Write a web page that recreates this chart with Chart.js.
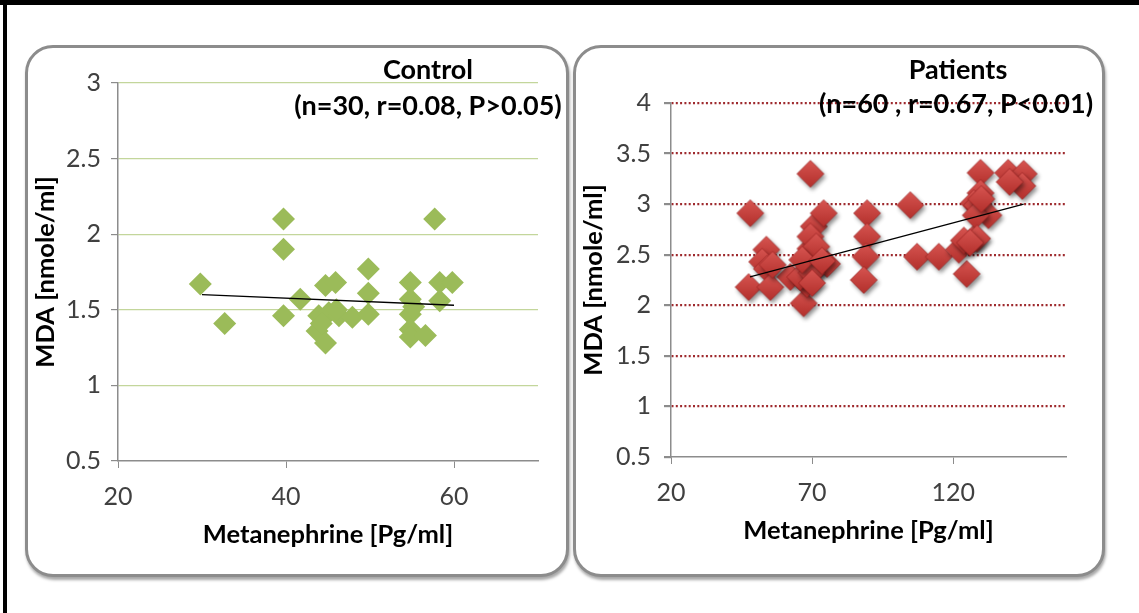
<!DOCTYPE html>
<html>
<head>
<meta charset="utf-8">
<script src="https://cdn.jsdelivr.net/npm/chart.js@4"></script>
<style>
  body { margin: 0; background: #fff; width: 1139px; height: 613px; overflow: hidden; position: relative; font-family: Lato, sans-serif; }
  .bar { position: absolute; background: #000; }
  .panel { position: absolute; box-sizing: border-box; border: 3px solid #8c8c8c; border-radius: 28px; box-shadow: 1px 3px 3px rgba(0,0,0,0.35); background: #fff; }
  canvas { position: absolute; }
</style>
</head>
<body>
<div class="bar" style="left:0;top:0;width:1139px;height:5px"></div>
<div class="bar" style="left:3px;top:0;width:4px;height:613px"></div>
<div class="panel" style="left:25px;top:45px;width:544px;height:532px"></div>
<div class="panel" style="left:573px;top:45px;width:532px;height:532px"></div>
<canvas id="controlChart" width="544" height="532" style="left:25px;top:45px"></canvas>
<canvas id="patientChart" width="532" height="532" style="left:573px;top:45px"></canvas>
<script>
// Control group (n=30)
const controlX = [29.8, 32.7, 39.7, 39.7, 39.7, 41.7, 44.7, 45.9, 43.9, 45.1, 46.3, 43.7, 44.7, 47.9, 49.8,
                  49.8, 49.8, 54.8, 54.8, 54.8, 54.8, 54.8, 56.6, 57.7, 58.3, 58.3, 59.8, 44.2, 46.0, 55.2];
const controlY = [1.67, 1.41, 2.10, 1.90, 1.46, 1.57, 1.66, 1.68, 1.46, 1.48, 1.46, 1.36, 1.28, 1.45, 1.77,
                  1.61, 1.47, 1.68, 1.57, 1.47, 1.37, 1.32, 1.33, 2.10, 1.68, 1.56, 1.68, 1.41, 1.50, 1.52];
const controlTrendX = [30, 60];
const controlTrendY = [1.60, 1.53];

// Patients group (n=60)
const patientX = [48.1, 69.4, 53.8, 52.3, 54.0, 47.5, 55.2, 62.3, 67.0, 69.4, 68.2, 70.6, 74.1, 72.3, 75.3,
                  69.4, 65.8, 89.5, 89.5, 89.0, 88.3, 104.8, 107.2, 114.9, 124.8, 122.0, 127.3, 123.8, 129.7, 129.7,
                  127.3, 128.5, 132.5, 128.0, 139.5, 145.0, 144.5, 128.5, 71.5, 69.8, 66.5, 73.5, 56.0, 70.0, 130.0,
                  126.0, 140.0];
const patientY = [2.91, 3.30, 2.55, 2.43, 2.36, 2.18, 2.18, 2.28, 2.02, 2.56, 2.21, 2.78, 2.91, 2.39, 2.41,
                  2.68, 2.28, 2.91, 2.68, 2.48, 2.25, 2.99, 2.48, 2.48, 2.31, 2.55, 2.66, 2.64, 3.31, 3.11,
                  3.01, 2.99, 2.89, 2.89, 3.31, 3.30, 3.18, 2.66, 2.58, 2.32, 2.45, 2.44, 2.40, 2.22, 3.05,
                  2.62, 3.22];
const patientTrendX = [48, 145];
const patientTrendY = [2.28, 3.00];

const controlXTicks = [20, 40, 60];
const controlYTicks = [0.5, 1, 1.5, 2, 2.5, 3];
const patientXTicks = [20, 70, 120];
const patientYTicks = [0.5, 1, 1.5, 2, 2.5, 3, 3.5, 4];

const toPoints = (xs, ys) => xs.map((x, i) => ({ x: x, y: ys[i] }));
const fixTicks = list => scale => { scale.ticks = list.map(v => ({ value: v })); };

const tickFont = { family: 'Lato', size: 25 };
const titleFont = { family: 'Lato', size: 25.5, weight: 'bold' };
const axisGray = '#8c8c8c';

// red diamond with a soft drop shadow, like the Excel marker
function makeRedDiamond() {
    const c = document.createElement('canvas');
    c.width = 40; c.height = 40;
    const g = c.getContext('2d');
    g.shadowColor = 'rgba(0,0,0,0.45)';
    g.shadowBlur = 4;
    g.shadowOffsetX = 2;
    g.shadowOffsetY = 3;
    const grad = g.createLinearGradient(20, 7, 20, 33);
    grad.addColorStop(0, '#d65450');
    grad.addColorStop(1, '#b3302c');
    g.fillStyle = grad;
    g.beginPath();
    g.moveTo(20, 6.5); g.lineTo(33.5, 20); g.lineTo(20, 33.5); g.lineTo(6.5, 20);
    g.closePath();
    g.fill();
    g.shadowColor = 'transparent';
    g.strokeStyle = 'rgba(150,30,30,0.6)';
    g.lineWidth = 1;
    g.stroke();
    return c;
}

// two-line title drawn over the plot, as in the original
const headerPlugin = {
    id: 'header',
    afterDraw(chart, args, opts) {
        const ctx = chart.ctx;
        ctx.save();
        ctx.fillStyle = '#000';
        ctx.font = 'bold 27px Lato';
        ctx.textAlign = 'center';
        ctx.textBaseline = 'middle';
        opts.lines.forEach(l => ctx.fillText(l.text, l.x, l.y));
        ctx.restore();
    }
};

function buildOptions(cfg) {
    return {
        responsive: false,
        animation: false,
        layout: { padding: cfg.padding },
        plugins: {
            legend: { display: false },
            tooltip: { enabled: false },
            header: { lines: cfg.header }
        },
        scales: {
            x: {
                type: 'linear',
                min: cfg.xMin, max: cfg.xMax,
                afterBuildTicks: fixTicks(cfg.xTicks),
                afterFit: s => { s.height = cfg.xHeight; },
                grid: { drawOnChartArea: false, tickLength: 7, tickColor: axisGray },
                border: { color: axisGray, width: 1.5 },
                ticks: { font: tickFont, color: '#404040', padding: cfg.xTickPad, maxRotation: 0, callback: v => String(v) },
                title: { display: true, text: 'Metanephrine [Pg/ml]', font: titleFont, color: '#000', padding: { bottom: cfg.xTitlePad } }
            },
            y: {
                type: 'linear',
                min: 0.5, max: cfg.yMax,
                afterBuildTicks: fixTicks(cfg.yTicks),
                afterFit: s => { s.width = cfg.yWidth; },
                grid: {
                    color: c => (c.tick && c.tick.value === 0.5) ? 'rgba(0,0,0,0)' : cfg.gridColor,
                    lineWidth: cfg.gridWidth,
                    tickLength: 7,
                    tickColor: axisGray
                },
                border: { color: axisGray, width: 1.5, dash: cfg.gridDash },
                ticks: { font: tickFont, color: '#404040', padding: cfg.yTickPad, callback: v => String(v) },
                title: { display: true, text: 'MDA [nmole/ml]', font: titleFont, color: '#000', padding: { top: cfg.yTitlePad } }
            }
        }
    };
}

new Chart(document.getElementById('controlChart'), {
    type: 'scatter',
    data: {
        datasets: [
            {
                type: 'line',
                data: toPoints(controlTrendX, controlTrendY),
                borderColor: '#000', borderWidth: 1.3, pointRadius: 0, fill: false
            },
            {
                data: toPoints(controlX, controlY),
                pointStyle: 'rectRot', pointRadius: 11.5,
                backgroundColor: '#9bbb59', borderWidth: 0
            }
        ]
    },
    options: buildOptions({
        padding: { left: 0, top: 38, right: 31, bottom: 26 },
        xMin: 20, xMax: 70, xTicks: controlXTicks, xHeight: 90, xTickPad: 14, xTitlePad: 1,
        yMax: 3, yTicks: controlYTicks, yWidth: 93, yTickPad: 10, yTitlePad: 5,
        gridColor: '#c3d69b', gridWidth: 1.2, gridDash: [],
        header: [
            { text: 'Control', x: 403, y: 25 },
            { text: '(n=30, r=0.08, P>0.05)', x: 403, y: 61 }
        ]
    }),
    plugins: [headerPlugin]
});

new Chart(document.getElementById('patientChart'), {
    type: 'scatter',
    data: {
        datasets: [
            {
                type: 'line',
                data: toPoints(patientTrendX, patientTrendY),
                borderColor: '#000', borderWidth: 1.3, pointRadius: 0, fill: false
            },
            {
                data: toPoints(patientX, patientY),
                pointStyle: makeRedDiamond(), pointRadius: 13
            }
        ]
    },
    options: buildOptions({
        padding: { left: 0, top: 58, right: 39, bottom: 30 },
        xMin: 20, xMax: 160, xTicks: patientXTicks, xHeight: 90, xTickPad: 14, xTitlePad: 1,
        yMax: 4, yTicks: patientYTicks, yWidth: 98, yTickPad: 13, yTitlePad: 5,
        gridColor: '#9e2a2e', gridWidth: 2.2, gridDash: [2, 2.3],
        header: [
            { text: 'Patients', x: 385, y: 25 },
            { text: '(n=60 , r=0.67, P<0.01)', x: 383, y: 59 }
        ]
    }),
    plugins: [headerPlugin]
});
</script>
</body>
</html>
